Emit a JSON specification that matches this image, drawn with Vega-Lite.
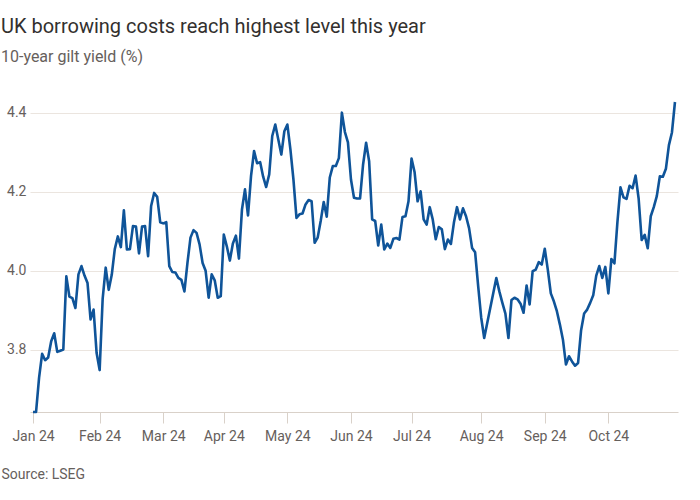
{
"$schema": "https://vega.github.io/schema/vega-lite/v6.json",
"width": 648,
"height": 310,
"padding": {"left": 1, "top": 16, "right": 10, "bottom": 10},
"background": "white",
"title": {"text": "UK borrowing costs reach highest level this year", "subtitle": "10-year gilt yield (%)", "anchor": "start", "frame": "bounds", "font": "Roboto", "fontSize": 20, "fontWeight": "normal", "color": "#33302e", "subtitleFont": "Roboto", "subtitleFontSize": 16, "subtitleColor": "#66605c", "subtitlePadding": 12, "offset": 36},
"data": {"values": [
{"date":"2024-01-02","yield":3.643},{"date":"2024-01-03","yield":3.643},{"date":"2024-01-04","yield":3.730},{"date":"2024-01-05","yield":3.790},{"date":"2024-01-08","yield":3.774},{"date":"2024-01-09","yield":3.781},{"date":"2024-01-10","yield":3.822},{"date":"2024-01-11","yield":3.842},{"date":"2024-01-12","yield":3.795},{"date":"2024-01-15","yield":3.798},{"date":"2024-01-16","yield":3.801},{"date":"2024-01-17","yield":3.986},{"date":"2024-01-18","yield":3.935},{"date":"2024-01-19","yield":3.931},{"date":"2024-01-22","yield":3.906},{"date":"2024-01-23","yield":3.991},{"date":"2024-01-24","yield":4.012},{"date":"2024-01-25","yield":3.988},{"date":"2024-01-26","yield":3.969},{"date":"2024-01-29","yield":3.877},{"date":"2024-01-30","yield":3.902},{"date":"2024-01-31","yield":3.792},
{"date":"2024-02-01","yield":3.749},{"date":"2024-02-02","yield":3.930},{"date":"2024-02-05","yield":4.008},{"date":"2024-02-06","yield":3.952},{"date":"2024-02-07","yield":3.990},{"date":"2024-02-08","yield":4.055},{"date":"2024-02-09","yield":4.087},{"date":"2024-02-12","yield":4.060},{"date":"2024-02-13","yield":4.153},{"date":"2024-02-14","yield":4.054},{"date":"2024-02-15","yield":4.055},{"date":"2024-02-16","yield":4.113},{"date":"2024-02-19","yield":4.112},{"date":"2024-02-20","yield":4.044},{"date":"2024-02-21","yield":4.112},{"date":"2024-02-22","yield":4.113},{"date":"2024-02-23","yield":4.037},{"date":"2024-02-26","yield":4.164},{"date":"2024-02-27","yield":4.197},{"date":"2024-02-28","yield":4.187},{"date":"2024-02-29","yield":4.123},
{"date":"2024-03-01","yield":4.120},{"date":"2024-03-04","yield":4.123},{"date":"2024-03-05","yield":4.012},{"date":"2024-03-06","yield":3.997},{"date":"2024-03-07","yield":3.996},{"date":"2024-03-08","yield":3.982},{"date":"2024-03-11","yield":3.977},{"date":"2024-03-12","yield":3.948},{"date":"2024-03-13","yield":4.020},{"date":"2024-03-14","yield":4.084},{"date":"2024-03-15","yield":4.103},{"date":"2024-03-18","yield":4.096},{"date":"2024-03-19","yield":4.067},{"date":"2024-03-20","yield":4.020},{"date":"2024-03-21","yield":4.000},{"date":"2024-03-22","yield":3.932},{"date":"2024-03-25","yield":3.991},{"date":"2024-03-26","yield":3.976},{"date":"2024-03-27","yield":3.932},{"date":"2024-03-28","yield":3.936},
{"date":"2024-04-02","yield":4.092},{"date":"2024-04-03","yield":4.062},{"date":"2024-04-04","yield":4.026},{"date":"2024-04-05","yield":4.069},{"date":"2024-04-08","yield":4.089},{"date":"2024-04-09","yield":4.031},{"date":"2024-04-10","yield":4.155},{"date":"2024-04-11","yield":4.206},{"date":"2024-04-12","yield":4.140},{"date":"2024-04-15","yield":4.240},{"date":"2024-04-16","yield":4.303},{"date":"2024-04-17","yield":4.272},{"date":"2024-04-18","yield":4.275},{"date":"2024-04-19","yield":4.238},{"date":"2024-04-22","yield":4.212},{"date":"2024-04-23","yield":4.244},{"date":"2024-04-24","yield":4.341},{"date":"2024-04-25","yield":4.370},{"date":"2024-04-26","yield":4.332},{"date":"2024-04-29","yield":4.294},{"date":"2024-04-30","yield":4.353},
{"date":"2024-05-01","yield":4.370},{"date":"2024-05-02","yield":4.307},{"date":"2024-05-03","yield":4.231},{"date":"2024-05-07","yield":4.134},{"date":"2024-05-08","yield":4.143},{"date":"2024-05-09","yield":4.145},{"date":"2024-05-10","yield":4.168},{"date":"2024-05-13","yield":4.179},{"date":"2024-05-14","yield":4.176},{"date":"2024-05-15","yield":4.071},{"date":"2024-05-16","yield":4.084},{"date":"2024-05-17","yield":4.126},{"date":"2024-05-20","yield":4.174},{"date":"2024-05-21","yield":4.137},{"date":"2024-05-22","yield":4.236},{"date":"2024-05-23","yield":4.265},{"date":"2024-05-24","yield":4.265},{"date":"2024-05-28","yield":4.285},{"date":"2024-05-29","yield":4.400},{"date":"2024-05-30","yield":4.351},{"date":"2024-05-31","yield":4.325},
{"date":"2024-06-03","yield":4.231},{"date":"2024-06-04","yield":4.185},{"date":"2024-06-05","yield":4.183},{"date":"2024-06-06","yield":4.183},{"date":"2024-06-07","yield":4.269},{"date":"2024-06-10","yield":4.324},{"date":"2024-06-11","yield":4.277},{"date":"2024-06-12","yield":4.130},{"date":"2024-06-13","yield":4.126},{"date":"2024-06-14","yield":4.064},{"date":"2024-06-17","yield":4.117},{"date":"2024-06-18","yield":4.054},{"date":"2024-06-19","yield":4.069},{"date":"2024-06-20","yield":4.058},{"date":"2024-06-21","yield":4.081},{"date":"2024-06-24","yield":4.083},{"date":"2024-06-25","yield":4.079},{"date":"2024-06-26","yield":4.136},{"date":"2024-06-27","yield":4.138},{"date":"2024-06-28","yield":4.176},
{"date":"2024-07-01","yield":4.284},{"date":"2024-07-02","yield":4.250},{"date":"2024-07-03","yield":4.176},{"date":"2024-07-04","yield":4.201},{"date":"2024-07-05","yield":4.130},{"date":"2024-07-08","yield":4.117},{"date":"2024-07-09","yield":4.161},{"date":"2024-07-10","yield":4.130},{"date":"2024-07-11","yield":4.080},{"date":"2024-07-12","yield":4.111},{"date":"2024-07-15","yield":4.105},{"date":"2024-07-16","yield":4.055},{"date":"2024-07-17","yield":4.079},{"date":"2024-07-18","yield":4.068},{"date":"2024-07-19","yield":4.122},{"date":"2024-07-22","yield":4.161},{"date":"2024-07-23","yield":4.130},{"date":"2024-07-24","yield":4.158},{"date":"2024-07-25","yield":4.138},{"date":"2024-07-26","yield":4.108},{"date":"2024-07-29","yield":4.058},{"date":"2024-07-30","yield":4.047},{"date":"2024-07-31","yield":3.962},
{"date":"2024-08-01","yield":3.882},{"date":"2024-08-02","yield":3.830},{"date":"2024-08-05","yield":3.868},{"date":"2024-08-06","yield":3.906},{"date":"2024-08-07","yield":3.944},{"date":"2024-08-08","yield":3.982},{"date":"2024-08-09","yield":3.948},{"date":"2024-08-12","yield":3.919},{"date":"2024-08-13","yield":3.892},{"date":"2024-08-14","yield":3.830},{"date":"2024-08-15","yield":3.926},{"date":"2024-08-16","yield":3.932},{"date":"2024-08-19","yield":3.928},{"date":"2024-08-20","yield":3.917},{"date":"2024-08-21","yield":3.894},{"date":"2024-08-22","yield":3.963},{"date":"2024-08-23","yield":3.915},{"date":"2024-08-27","yield":3.999},{"date":"2024-08-28","yield":4.003},{"date":"2024-08-29","yield":4.022},{"date":"2024-08-30","yield":4.016},
{"date":"2024-09-02","yield":4.056},{"date":"2024-09-03","yield":4.003},{"date":"2024-09-04","yield":3.943},{"date":"2024-09-05","yield":3.923},{"date":"2024-09-06","yield":3.898},{"date":"2024-09-09","yield":3.864},{"date":"2024-09-10","yield":3.826},{"date":"2024-09-11","yield":3.763},{"date":"2024-09-12","yield":3.784},{"date":"2024-09-13","yield":3.771},{"date":"2024-09-16","yield":3.760},{"date":"2024-09-17","yield":3.767},{"date":"2024-09-18","yield":3.850},{"date":"2024-09-19","yield":3.892},{"date":"2024-09-20","yield":3.902},{"date":"2024-09-23","yield":3.919},{"date":"2024-09-24","yield":3.938},{"date":"2024-09-25","yield":3.988},{"date":"2024-09-26","yield":4.012},{"date":"2024-09-27","yield":3.982},{"date":"2024-09-30","yield":4.010},
{"date":"2024-10-01","yield":3.943},{"date":"2024-10-02","yield":4.030},{"date":"2024-10-03","yield":4.019},{"date":"2024-10-04","yield":4.124},{"date":"2024-10-07","yield":4.211},{"date":"2024-10-08","yield":4.186},{"date":"2024-10-09","yield":4.182},{"date":"2024-10-10","yield":4.215},{"date":"2024-10-11","yield":4.209},{"date":"2024-10-14","yield":4.241},{"date":"2024-10-15","yield":4.183},{"date":"2024-10-16","yield":4.078},{"date":"2024-10-17","yield":4.091},{"date":"2024-10-18","yield":4.057},{"date":"2024-10-21","yield":4.138},{"date":"2024-10-22","yield":4.161},{"date":"2024-10-23","yield":4.189},{"date":"2024-10-24","yield":4.239},{"date":"2024-10-25","yield":4.238},{"date":"2024-10-28","yield":4.258},{"date":"2024-10-29","yield":4.318},{"date":"2024-10-30","yield":4.350},{"date":"2024-10-31","yield":4.427}
]},
"mark": {"type": "line", "color": "#0f5499", "strokeWidth": 2.6, "strokeJoin": "round"},
"encoding": {
  "x": {"field": "date", "type": "ordinal", "scale": {"type": "point", "padding": 1.1},
        "axis": {"values": ["2024-01-02","2024-02-01","2024-03-01","2024-04-02","2024-05-01","2024-06-03","2024-07-01","2024-08-01","2024-09-02","2024-10-01"],
                 "labelExpr": "utcFormat(toDate(datum.value), '%b %y')", "labelAngle": 0, "grid": false,
                 "domainColor": "#d9d1c9", "tickColor": "#d9d1c9", "tickSize": 11, "labelPadding": 6,
                 "title": "Source: LSEG", "titleAnchor": "start", "titleAlign": "left", "titleX": -29, "titleY": 55, "titleBaseline": "top", "titleFontWeight": "normal"}},
  "y": {"field": "yield", "type": "quantitative", "scale": {"zero": false, "nice": false},
        "axis": {"values": [3.8, 4.0, 4.2, 4.4], "format": ".1f", "title": null, "domain": false, "ticks": false, "labelPadding": 4, "minExtent": 29, "gridColor": "#ebe5df"}}
},
"config": {
  "view": {"stroke": null},
  "axis": {"labelFont": "Roboto", "labelFontSize": 14, "labelColor": "#66605c", "titleFont": "Roboto", "titleFontSize": 14, "titleColor": "#66605c"}
}
}
